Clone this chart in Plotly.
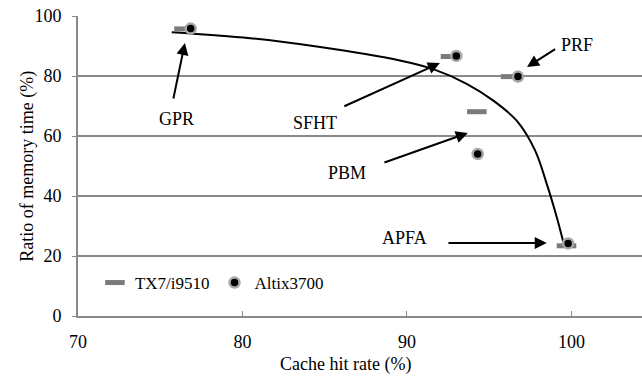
import plotly.graph_objects as go

# Data
apps = ["GPR", "SFHT", "PRF", "PBM", "APFA"]
tx7_hit = [76.45, 92.65, 96.3, 94.25, 99.7]
tx7_ratio = [95.7, 86.5, 79.8, 68.1, 23.4]
altix_hit = [76.85, 93.0, 96.75, 94.3, 99.8]
altix_ratio = [95.8, 86.7, 79.8, 54.0, 24.2]

curve_x = [75.7, 80.46, 84.51, 89.57, 91.6, 93.63, 95.25, 96.67, 97.78, 98.49, 99.1, 99.5]
curve_y = [94.6, 92.6, 89.8, 85.2, 82.3, 77.4, 71.8, 65.1, 55.3, 44.2, 33.1, 24.8]

# label positions (text centre), arrow tail and tip, in data coords
label_x = [75.99, 84.4, 100.33, 86.35, 89.88]
label_y = [65.7, 64.3, 90.3, 47.7, 26.0]
tail_x = [75.78, 86.1, 99.1, 88.54, 92.43]
tail_y = [72.0, 69.7, 89.3, 51.0, 24.3]
tip_x = [76.5, 92.0, 97.3, 93.7, 98.5]
tip_y = [91.0, 84.3, 83.0, 61.0, 24.3]

FONT = "Liberation Serif"
GRAY = "#8a8a8a"
TXT = dict(family=FONT, size=18, color="black")

fig = go.Figure()
fig.add_trace(go.Scatter(
    x=curve_x, y=curve_y, mode="lines",
    line=dict(color="black", width=2, shape="spline", smoothing=1.0),
    showlegend=False, hoverinfo="skip"))
fig.add_trace(go.Scatter(
    x=tx7_hit, y=tx7_ratio, mode="markers", name="TX7/i9510",
    marker=dict(symbol="line-ew", size=14, line=dict(color="#7a7a7a", width=5)),
    cliponaxis=False))
fig.add_trace(go.Scatter(
    x=altix_hit, y=altix_ratio, mode="markers", name="Altix3700",
    marker=dict(symbol="circle", size=10, color="black", line=dict(color="#a8a8a8", width=2.5)),
    cliponaxis=False))

for i, a in enumerate(apps):
    fig.add_annotation(x=label_x[i], y=label_y[i], text=a, showarrow=False, font=TXT)
    fig.add_annotation(x=tip_x[i], y=tip_y[i], ax=tail_x[i], ay=tail_y[i],
                       xref="x", yref="y", axref="x", ayref="y", text="",
                       showarrow=True, arrowhead=2, arrowsize=1.2, arrowwidth=2,
                       arrowcolor="black")

fig.add_annotation(x=0.475, y=-0.163, xref="paper", yref="paper", yanchor="middle",
                   text="Cache hit rate (%)", showarrow=False, font=TXT)
fig.add_annotation(x=-0.113, y=0.5, xref="paper", yref="paper", textangle=-90,
                   text="Ratio of memory time (%)", showarrow=False, font=TXT)

fig.update_layout(
    width=642, height=376,
    margin=dict(l=78, r=0, t=16, b=60),
    paper_bgcolor="white", plot_bgcolor="white",
    font=TXT,
    showlegend=True,
    legend=dict(orientation="h", x=0.03, y=0.11, xanchor="left", yanchor="middle",
                bgcolor="rgba(0,0,0,0)", font=dict(family=FONT, size=17, color="black"),
                itemwidth=30, tracegroupgap=0),
    xaxis=dict(range=[70, 104.29], tickvals=[70, 80, 90, 100], showgrid=False,
               showline=True, linecolor=GRAY, linewidth=2, ticks="inside",
               ticklen=5, tickcolor=GRAY, tickwidth=1, ticklabelstandoff=8,
               zeroline=False, tickfont=TXT),
    yaxis=dict(range=[0, 100], tickvals=[0, 20, 40, 60, 80, 100], showgrid=True,
               gridcolor=GRAY, gridwidth=2, showline=True, linecolor=GRAY, linewidth=2,
               ticks="outside", ticklen=4, tickcolor=GRAY, tickwidth=1,
               ticklabelstandoff=7, zeroline=False, tickfont=TXT),
)

fig.write_html("out.html")
